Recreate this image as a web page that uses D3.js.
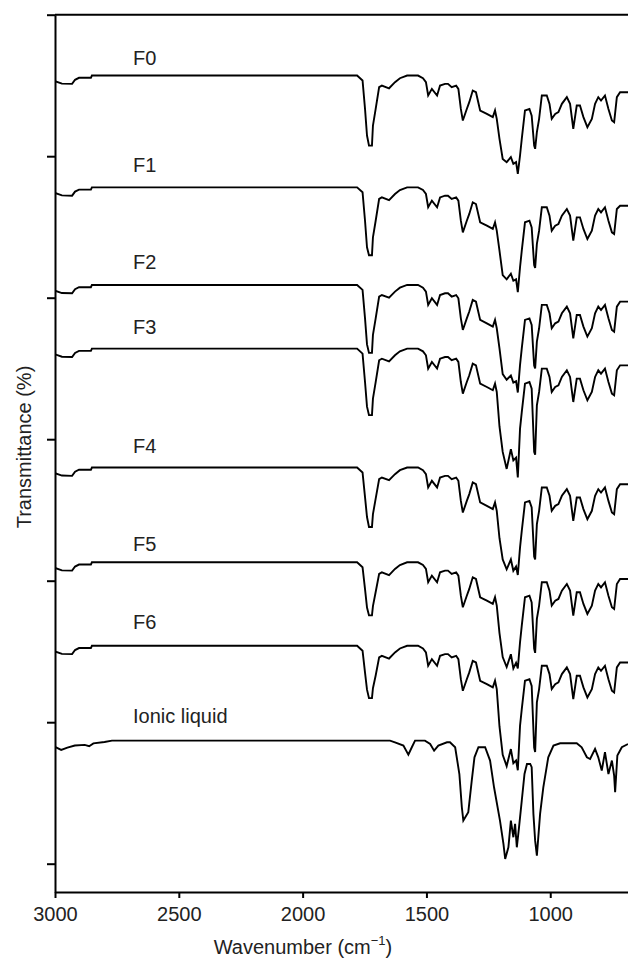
<!DOCTYPE html>
<html lang="en">
<head>
<meta charset="UTF-8">
<script src="https://d3js.org/d3.v7.min.js"></script>
<title>FTIR spectra</title>
<style>
  body { margin: 0; background: #fff; }
  text { font-family: "Liberation Sans", Arial, sans-serif; fill: #222; }
</style>
</head>
<body>
<div id="chart"></div>
<script>
// wavenumbers (cm-1) shared by the F0..F6 spectra
var wnF = [3000, 2972, 2931, 2919, 2903, 2855, 2851, 1780, 1758, 1748,
           1740, 1732, 1720, 1716, 1705, 1691, 1680, 1651, 1627, 1607,
           1578, 1534, 1514, 1502, 1493, 1478, 1457, 1445, 1425, 1413,
           1398, 1380, 1371, 1361, 1353, 1337, 1327, 1313, 1300, 1283,
           1256, 1232, 1223, 1216, 1205, 1192, 1176, 1159, 1149, 1138,
           1131, 1122, 1115, 1102, 1084, 1075, 1065, 1061, 1054, 1045,
           1034, 1014, 1003, 994, 980, 967, 953, 933, 920, 907,
           893, 880, 866, 850, 832, 819, 806, 795, 779, 765,
           751, 742, 731, 718, 686];

var tF0 = [91, 89.3, 89.1, 92, 93.4, 93.4, 95, 95, 91.5, 71.4,
           52.6, 45.5, 45.5, 59.7, 71.4, 86.8, 87.9, 86.0, 90.3, 93.1,
           95, 95, 93.1, 90.3, 80.9, 85.6, 80.9, 87.9, 89.1, 89.1,
           86.8, 87.9, 85.6, 71.4, 63.2, 71.4, 76.2, 84.4, 83.2, 70.3,
           67.9, 65.6, 70.3, 64.4, 50.2, 36.1, 33.8, 37.3, 32.6, 33.8,
           25.5, 38.5, 50.2, 70.3, 71.4, 66.7, 45.5, 43.2, 55.0, 64.4,
           80.9, 80.9, 75.0, 64.4, 67.9, 69.1, 75.0, 79.7, 75.0, 57.3,
           73.8, 73.8, 65.6, 58.5, 64.4, 75.0, 79.7, 77.3, 80.9, 71.4,
           63.2, 62.0, 79.7, 83.2, 83.2];

var tF1 = [91, 89.3, 89.1, 92, 93.4, 93.4, 95, 95, 91.5, 71.4,
           52.6, 47, 47, 59.7, 71.4, 86.8, 87.9, 86.0, 90.3, 93.1,
           95, 95, 93.1, 90.3, 80.9, 85.6, 80.9, 87.9, 89.1, 89.1,
           86.8, 87.9, 85.6, 71.4, 63.2, 71.4, 76.2, 84.4, 83.2, 70.3,
           67.9, 65.6, 70.3, 64.4, 50.2, 33, 30, 34, 29, 30,
           21, 38.5, 50.2, 70.3, 71.4, 66.7, 40, 38, 55.0, 64.4,
           80.9, 80.9, 75.0, 64.4, 67.9, 69.1, 75.0, 79.7, 75.0, 57.3,
           73.8, 73.8, 65.6, 58.5, 64.4, 75.0, 79.7, 77.3, 80.9, 71.4,
           63.2, 62.0, 79.7, 82, 82];

var tF2 = [91, 89.3, 89.1, 92, 93.4, 93.4, 95, 95, 91.5, 71.4,
           53, 47, 47, 59.7, 71.4, 86.8, 87.9, 86.0, 90.3, 93.1,
           95, 95, 93.1, 90.3, 80.9, 85.6, 80.9, 87.9, 89.1, 89.1,
           86.8, 87.9, 85.6, 71.4, 63.2, 71.4, 76.2, 84.4, 83.2, 70.3,
           67.9, 65.6, 70.3, 64.4, 50.2, 32, 28, 31, 26, 27,
           19, 38.5, 50.2, 70.3, 71.4, 66.7, 38, 36, 55.0, 64.4,
           80.9, 80.9, 75.0, 64.4, 67.9, 69.1, 75.0, 79.7, 75.0, 57.3,
           73.8, 73.8, 65.6, 58.5, 64.4, 75.0, 79.7, 77.3, 80.9, 71.4,
           63.2, 62.0, 79.7, 83.2, 83.2];

var tF3 = [91, 89.3, 89.1, 92, 93.4, 93.4, 95, 95, 91.5, 71.4,
           54, 48, 48, 59.7, 71.4, 86.8, 87.9, 86.0, 90.3, 93.1,
           95, 95, 93.1, 90.3, 80.9, 85.6, 80.9, 87.9, 89.1, 89.1,
           86.8, 87.9, 85.6, 71.4, 63.2, 71.4, 76.2, 84.4, 83.2, 70.3,
           67.9, 65.6, 70.3, 64.4, 40, 22, 10, 24, 16, 18,
           4, 38.5, 50.2, 70.3, 71.4, 66.7, 22, 20, 55.0, 64.4,
           80.9, 80.9, 75.0, 64.4, 67.9, 69.1, 75.0, 79.7, 75.0, 57.3,
           73.8, 73.8, 65.6, 58.5, 64.4, 75.0, 79.7, 77.3, 80.9, 71.4,
           63.2, 62.0, 79.7, 83.2, 83.2];

var tF4 = [91, 89.3, 89.1, 92, 93.4, 93.4, 95, 95, 91.5, 74,
           60, 53, 53, 62, 73, 86.8, 87.9, 86.0, 90.3, 93.1,
           95, 95, 93.1, 90.3, 80.9, 85.6, 80.9, 87.9, 89.1, 89.1,
           86.8, 87.9, 85.6, 71.4, 63.2, 71.4, 76.2, 84.4, 83.2, 70.3,
           67.9, 65.6, 70.3, 64.4, 45, 30, 23, 30, 22, 25,
           19, 38.5, 50.2, 70.3, 71.4, 66.7, 32, 30, 55.0, 64.4,
           80.9, 80.9, 75.0, 64.4, 67.9, 69.1, 75.0, 79.7, 75.0, 57.3,
           73.8, 73.8, 65.6, 58.5, 64.4, 75.0, 79.7, 77.3, 80.9, 71.4,
           63.2, 62.0, 79.7, 83.2, 83.2];

var tF5 = [91, 89.3, 89.1, 92, 93.4, 93.4, 95, 95, 91.5, 76,
           63, 57.5, 57.5, 64, 74, 86.8, 87.9, 86.0, 90.3, 93.1,
           95, 95, 93.1, 90.3, 80.9, 85.6, 80.9, 87.9, 89.1, 89.1,
           86.8, 87.9, 85.6, 71.4, 63.2, 71.4, 76.2, 84.4, 83.2, 70.3,
           67.9, 65.6, 70.3, 64.4, 45, 28, 21, 30, 20, 24,
           20, 38.5, 50.2, 70.3, 71.4, 66.7, 34, 31, 55.0, 64.4,
           80.9, 80.9, 75.0, 64.4, 67.9, 69.1, 75.0, 79.7, 75.0, 57.3,
           73.8, 73.8, 65.6, 58.5, 64.4, 75.0, 79.7, 77.3, 80.9, 71.4,
           63.2, 62.0, 79.7, 83.2, 83.2];

var tF6 = [91, 89.3, 89.1, 92, 93.4, 93.4, 95, 95, 91.5, 76,
           64, 58, 58, 65, 74, 86.8, 87.9, 86.0, 90.3, 93.1,
           95, 95, 93.1, 90.3, 80.9, 85.6, 80.9, 87.9, 89.1, 89.1,
           86.8, 87.9, 85.6, 71.4, 63.2, 71.4, 76.2, 84.4, 83.2, 70.3,
           67.9, 65.6, 70.3, 64.4, 38, 18, 10, 22, 12, 14,
           7, 38.5, 50.2, 70.3, 71.4, 66.7, 23, 20, 55.0, 64.4,
           80.9, 80.9, 75.0, 64.4, 67.9, 69.1, 75.0, 79.7, 75.0, 57.3,
           73.8, 73.8, 65.6, 58.5, 64.4, 75.0, 79.7, 77.3, 80.9, 71.4,
           63.2, 62.0, 79.7, 83.2, 83.2];

// ionic liquid spectrum
var wnIL = [3000, 2975, 2950, 2920, 2880, 2862, 2845, 2800, 2770,
            1647, 1627, 1593, 1573, 1559, 1546, 1506, 1485, 1469, 1452,
            1417, 1405, 1384, 1367, 1357, 1351, 1331, 1317, 1306, 1290,
            1263, 1243, 1227, 1203, 1189, 1182, 1169, 1159, 1149, 1142,
            1135, 1126, 1115, 1104, 1094, 1081, 1075, 1068, 1061, 1054,
            1041, 1028, 1008, 987, 960, 893, 873, 852, 839, 819,
            806, 792, 779, 765, 751, 742, 738, 729, 711, 686];
var tIL = [90.5, 88.4, 90, 91.5, 92, 91, 93, 94, 95,
           95, 93.8, 91.5, 85.1, 90.3, 95, 95, 92.6, 87.9, 91.5,
           93.8, 93.8, 90.3, 71.4, 47.9, 38.5, 44.4, 66.7, 83.2, 90.3,
           90.3, 80.9, 62.0, 38.5, 22.0, 11.4, 19.6, 38.5, 26.7, 36.1,
           19.6, 33.8, 52.6, 71.4, 78.5, 78.5, 76.2, 43.2, 24.3, 13.7,
           43.2, 62.0, 83.2, 91.5, 93.1, 93.1, 90.3, 83.2, 82.0, 89.1,
           83.2, 73.8, 86.8, 71.4, 80.9, 70.3, 58.5, 84.4, 90.3, 92.6];

var names   = ["F0", "F1", "F2", "F3", "F4", "F5", "F6", "Ionic liquid"];
var offsets = [482, 403, 334, 289, 205, 138, 79, 12];   // vertical stacking shift
var labelAt = [584.5, 508.8, 440.3, 394.3, 310.2, 241.0, 185.9, 119.4];

var xTicks = [3000, 2500, 2000, 1500, 1000];
var yTicks = [20, 120, 220, 320, 420, 520, 620];

var spectra = [
  {wn: wnF, t: tF0}, {wn: wnF, t: tF1}, {wn: wnF, t: tF2}, {wn: wnF, t: tF3},
  {wn: wnF, t: tF4}, {wn: wnF, t: tF5}, {wn: wnF, t: tF6}, {wn: wnIL, t: tIL}
];

var W = 628, H = 959;
var m = {top: 14.7, left: 55, right: 0, bottom: 67};

var svg = d3.select("#chart").append("svg")
    .attr("width", W).attr("height", H);

var x = d3.scaleLinear().domain([3000, 686]).range([m.left, W - m.right]);
var y = d3.scaleLinear().domain([0, 620]).range([H - m.bottom, m.top]);

svg.append("defs").append("clipPath").attr("id", "clip")
  .append("rect")
    .attr("x", m.left).attr("y", m.top - 2)
    .attr("width", W - m.left).attr("height", H - m.bottom - m.top + 2);

var line = d3.line()
    .x(d => x(d[0]))
    .y(d => y(d[1]));

spectra.forEach(function(s, i) {
  var pts = s.wn.map((w, k) => [w, s.t[k] + offsets[i]]);
  svg.append("path")
    .attr("clip-path", "url(#clip)")
    .attr("d", line(pts))
    .attr("fill", "none")
    .attr("stroke", "#000")
    .attr("stroke-width", 1.9)
    .attr("stroke-linejoin", "miter");

  svg.append("text")
    .attr("x", x(2685))
    .attr("y", y(labelAt[i]))
    .attr("font-size", 20)
    .text(names[i]);
});

// axes
var gx = svg.append("g")
    .attr("transform", "translate(0," + (H - m.bottom) + ")")
    .call(d3.axisBottom(x).tickValues(xTicks).tickFormat(d3.format("d"))
      .tickSize(6).tickPadding(9).tickSizeOuter(0));
gx.selectAll("text").attr("font-size", 20).style("font-family", "'Liberation Sans', Arial, sans-serif");

var gy = svg.append("g")
    .attr("transform", "translate(" + m.left + ",0)")
    .call(d3.axisLeft(y).tickValues(yTicks).tickSize(8).tickFormat("").tickSizeOuter(0));

svg.selectAll(".domain, .tick line").attr("stroke", "#000").attr("stroke-width", 2);

// top frame line
svg.append("line")
    .attr("x1", m.left).attr("x2", W)
    .attr("y1", y(620)).attr("y2", y(620))
    .attr("stroke", "#000").attr("stroke-width", 2);

// axis titles
var xt = svg.append("text")
    .attr("x", 303).attr("y", 954)
    .attr("text-anchor", "middle")
    .attr("font-size", 20);
xt.append("tspan").text("Wavenumber (cm");
xt.append("tspan").attr("dy", -9).attr("font-size", 13).text("\u22121");
xt.append("tspan").attr("dy", 9).text(")");

svg.append("text")
    .attr("transform", "translate(31,447) rotate(-90)")
    .attr("text-anchor", "middle")
    .attr("font-size", 20)
    .text("Transmittance (%)");
</script>
</body>
</html>
